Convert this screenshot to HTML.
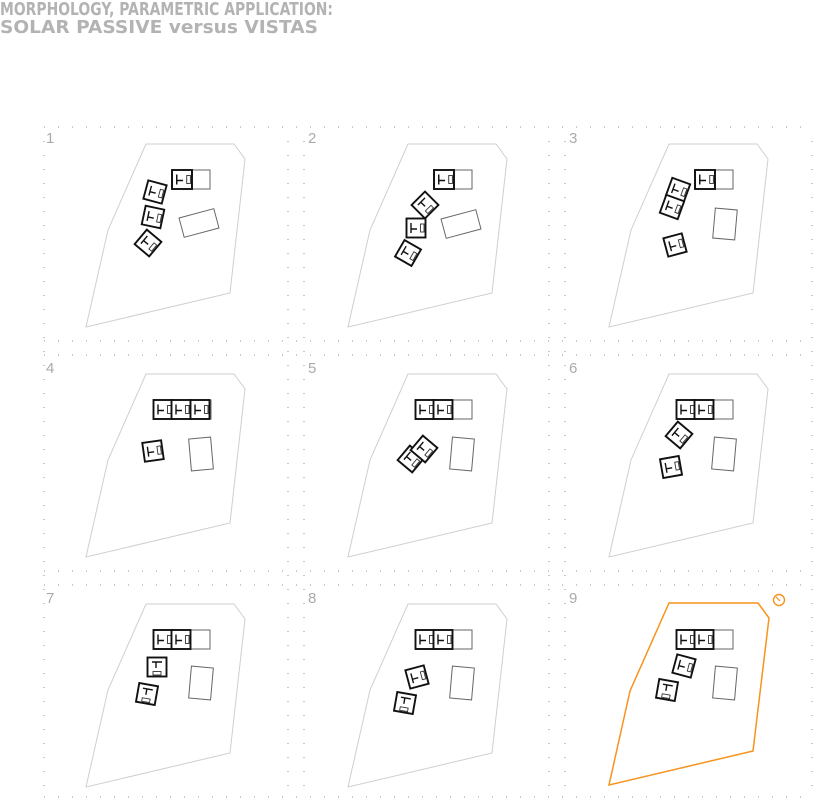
<!DOCTYPE html>
<html><head><meta charset="utf-8"><style>
html,body{margin:0;padding:0;background:#fff;}
svg{display:block;}
</style></head><body>
<svg width="814" height="801" viewBox="0 0 814 801" xmlns="http://www.w3.org/2000/svg">
<defs>
<g id="h">
<rect x="-9.5" y="-9.5" width="19" height="19" fill="#fff" stroke="#111" stroke-width="1.9"/>
<path d="M-5,-5 V5 M-5,1 H1" stroke="#111" stroke-width="1.4" fill="none"/>
<rect x="4.5" y="-4" width="3.5" height="8" fill="#fff" stroke="#333" stroke-width="0.9"/>
</g>
<g id="site"><polygon points="146,144 234,144 245,159 230,293 86,327 108,230" fill="none" stroke="#cfcfcf" stroke-width="1"/></g>
<g id="top1">
<rect x="172" y="170" width="38" height="19" fill="none" stroke="#666" stroke-width="1"/>
<use href="#h" transform="translate(182,179.5) scale(1.05,1)"/>
</g>
<g id="top2">
<rect x="154" y="170" width="56" height="19" fill="none" stroke="#666" stroke-width="1"/>
<use href="#h" transform="translate(163,179.5)"/>
<use href="#h" transform="translate(181,179.5)"/>
</g>
</defs>
<text x="0" y="15" font-family="'DejaVu Sans','Liberation Sans',sans-serif" font-weight="bold" font-size="18" fill="#b3b3b3" textLength="333" lengthAdjust="spacingAndGlyphs">MORPHOLOGY, PARAMETRIC APPLICATION:</text>
<text x="0" y="33" font-family="'DejaVu Sans','Liberation Sans',sans-serif" font-weight="bold" font-size="18" fill="#b3b3b3" textLength="318" lengthAdjust="spacingAndGlyphs">SOLAR PASSIVE versus VISTAS</text>

<g stroke="#aaa" stroke-width="1.3" stroke-dasharray="1 13">
<path d="M44,127 H814 M44,341 H814 M44,355 H814 M44,571 H814 M44,585 H814 M44,797 H814"/>
<path d="M44,141 V797 M288,141 V797 M304,141 V797 M549,141 V797 M565,141 V797 M812,141 V797"/>
</g>

<g font-family="'Liberation Sans',sans-serif" font-size="15" fill="#aaa">
<text x="46" y="143">1</text><text x="308" y="143">2</text><text x="569" y="143">3</text>
<text x="46" y="373">4</text><text x="308" y="373">5</text><text x="569" y="373">6</text>
<text x="46" y="603">7</text><text x="308" y="603">8</text><text x="569" y="603">9</text>
</g>

<!-- panel 1 -->
<use href="#site"/>
<use href="#top1"/>
<use href="#h" transform="translate(155,192) rotate(15)"/>
<use href="#h" transform="translate(153,217) rotate(12)"/>
<use href="#h" transform="translate(148,243) rotate(40)"/>
<rect x="-18" y="-10" width="36" height="20" transform="translate(199,223) rotate(-15)" fill="none" stroke="#666"/>

<!-- panel 2 -->
<g transform="translate(262,0)">
<use href="#site"/><use href="#top1"/>
<use href="#h" transform="translate(163,205) rotate(45)"/>
<use href="#h" transform="translate(154,228) rotate(0)"/>
<use href="#h" transform="translate(146,253) rotate(30)"/>
<rect x="-18" y="-10" width="36" height="20" transform="translate(199,224) rotate(-15)" fill="none" stroke="#666"/>
</g>

<!-- panel 3 -->
<g transform="translate(523,0)">
<use href="#site"/><use href="#top1"/>
<use href="#h" transform="translate(155,190) rotate(20)"/>
<use href="#h" transform="translate(149,207) rotate(20)"/>
<use href="#h" transform="translate(152,245) rotate(-15)"/>
<rect x="-11" y="-15" width="22" height="30" transform="translate(202,224) rotate(5)" fill="none" stroke="#666"/>
</g>

<!-- panel 4 -->
<g transform="translate(0,230)">
<use href="#site"/>
<rect x="154" y="170" width="57" height="19" fill="none" stroke="#666"/>
<use href="#h" transform="translate(163,179.5)"/>
<use href="#h" transform="translate(181,179.5)"/>
<use href="#h" transform="translate(200,179.5)"/>
<use href="#h" transform="translate(153,221) rotate(-8)"/>
<rect x="-11" y="-16" width="22" height="32" transform="translate(201,224) rotate(-5)" fill="none" stroke="#666"/>
</g>

<!-- panel 5 -->
<g transform="translate(262,230)">
<use href="#site"/><use href="#top2"/>
<use href="#h" transform="translate(149,229) rotate(40)"/>
<use href="#h" transform="translate(162,219) rotate(40)"/>
<rect x="-11" y="-16" width="22" height="32" transform="translate(200,224) rotate(5)" fill="none" stroke="#666"/>
</g>

<!-- panel 6 -->
<g transform="translate(523,230)">
<use href="#site"/><use href="#top2"/>
<use href="#h" transform="translate(156,205) rotate(40)"/>
<use href="#h" transform="translate(148,237) rotate(-10)"/>
<rect x="-11" y="-16" width="22" height="32" transform="translate(201,224) rotate(5)" fill="none" stroke="#666"/>
</g>

<!-- panel 7 -->
<g transform="translate(0,460)">
<use href="#site"/><use href="#top2"/>
<use href="#h" transform="translate(157,207) rotate(90)"/>
<use href="#h" transform="translate(147,234) rotate(100)"/>
<rect x="-11" y="-16" width="22" height="32" transform="translate(201,223) rotate(5)" fill="none" stroke="#666"/>
</g>

<!-- panel 8 -->
<g transform="translate(262,460)">
<use href="#site"/><use href="#top2"/>
<use href="#h" transform="translate(155,217) rotate(-15)"/>
<use href="#h" transform="translate(143,243) rotate(100)"/>
<rect x="-11" y="-16" width="22" height="32" transform="translate(200,223) rotate(5)" fill="none" stroke="#666"/>
</g>

<!-- panel 9 -->
<g transform="translate(523,460)">
<use href="#top2"/>
<use href="#h" transform="translate(161,206) rotate(15)"/>
<use href="#h" transform="translate(144,230) rotate(100)"/>
<rect x="-11" y="-16" width="22" height="32" transform="translate(202,223) rotate(5)" fill="none" stroke="#666"/>
</g>
<polygon points="669,603 758,603 769,618 753,751 609,785 630,691" fill="none" stroke="#f7941d" stroke-width="1.5"/>
<circle cx="779" cy="600" r="5.5" fill="none" stroke="#f7941d" stroke-width="1.4"/>
<line x1="776" y1="597" x2="780" y2="601" stroke="#f7941d" stroke-width="1.2"/>
</svg>
</body></html>
